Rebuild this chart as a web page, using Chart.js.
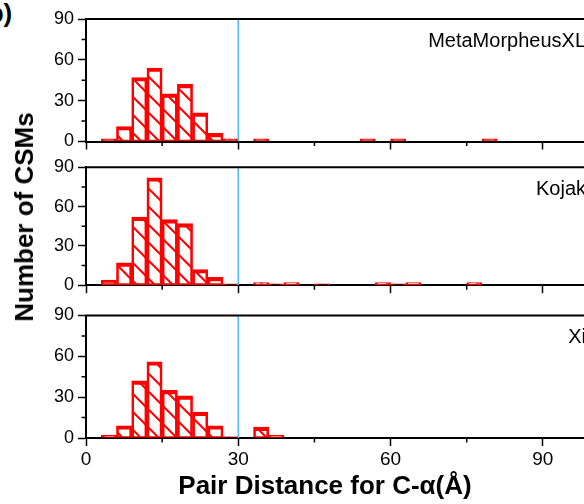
<!DOCTYPE html>
<html>
<head>
<meta charset="utf-8">
<script src="https://cdn.jsdelivr.net/npm/chart.js@4.4.1/dist/chart.umd.min.js"></script>
<style>
  html, body { margin: 0; padding: 0; overflow: hidden; background: #fff; }
  #wrap { position: relative; width: 640px; height: 504px; font-family: 'Liberation Sans', Arial, sans-serif; }
  canvas { position: absolute; left: 0; }
  .lbl { position: absolute; white-space: nowrap; line-height: 1; font-weight: bold; color: #000; }
</style>
</head>
<body>
<div id="wrap">
  <div class="lbl" style="left:-21px; top:0; font-size:26px;">(b)</div>
  <canvas id="c1" width="640" height="160" style="top:0px"></canvas>
  <canvas id="c2" width="640" height="152" style="top:148px"></canvas>
  <canvas id="c3" width="640" height="207" style="top:297px"></canvas>
  <div class="lbl" style="left:23.5px; top:217px; font-size:26px; transform:translate(-50%,-50%) rotate(-90deg);">Number of CSMs</div>
  <div class="lbl" style="left:325px; top:485px; font-size:26px; transform:translate(-50%,-50%);">Pair Distance for C-α(Å)</div>
</div>
<script>
// bin centres, 3 Å wide bins
const binCenters = [4.5, 7.5, 10.5, 13.5, 16.5, 19.5, 22.5, 25.5, 28.5, 31.5, 34.5, 37.5, 40.5,
  43.5, 46.5, 49.5, 52.5, 55.5, 58.5, 61.5, 64.5, 67.5, 70.5, 73.5, 76.5, 79.5]

const metaMorpheusXL = [2, 11, 47, 54, 35, 42, 21, 6, 2, 0, 2, 0, 0, 0, 0, 0, 0, 2, 0, 2, 0, 0, 0, 0, 0, 2]
const kojak = [4, 17, 52, 82, 50, 47, 12, 6, 1, 0, 2, 1, 2, 0, 1, 0, 0, 0, 2, 1, 2, 0, 0, 0, 2, 0]
const xi = [2, 9, 42, 56, 35, 31, 19, 9, 1, 0, 8, 2, 0, 0, 0, 0, 0, 0, 0, 0, 0, 0, 0, 0, 0, 0]

const cutoff = 30
const yTicks = [0, 30, 60, 90]
const minorX = [15, 45, 75, 105]
const minorY = [15, 45, 75]

const RED = '#ff0000'
const BLUE = '#4db8f0'
const PLOT_H = 122.5

// diagonal hatch
function hatch() {
  const s = 18
  const c = document.createElement('canvas')
  c.width = s; c.height = s
  const g = c.getContext('2d')
  g.strokeStyle = RED
  g.lineWidth = 2
  g.beginPath()
  g.moveTo(0, 0); g.lineTo(s, s)
  g.moveTo(s - 3, -3); g.lineTo(s + 3, 3)
  g.moveTo(-3, s - 3); g.lineTo(3, s + 3)
  g.stroke()
  return g.createPattern(c, 'repeat')
}

const framePlugin = {
  id: 'frame',
  afterDraw(chart, args, opts) {
    const { ctx, chartArea: a, scales: { x, y } } = chart
    ctx.save()
    ctx.strokeStyle = '#000'
    ctx.lineWidth = 2
    ctx.beginPath()
    ctx.moveTo(a.left - 1, a.top); ctx.lineTo(a.right, a.top)
    ctx.stroke()
    ctx.lineWidth = 1.5
    ctx.beginPath()
    minorX.forEach(v => {
      const px = x.getPixelForValue(v)
      ctx.moveTo(px, a.bottom); ctx.lineTo(px, a.bottom + 4.5)
    })
    minorY.forEach(v => {
      const py = y.getPixelForValue(v)
      ctx.moveTo(a.left, py); ctx.lineTo(a.left - 4.5, py)
    })
    ctx.stroke()
    ctx.fillStyle = '#000'
    ctx.font = '20px "Liberation Sans", Arial, sans-serif'
    ctx.textAlign = 'right'
    ctx.textBaseline = 'middle'
    ctx.fillText(opts.name, a.right - 33, a.top + 22)
    ctx.restore()
  }
}

function panel(id, padTop, counts, name, showX) {
  const el = document.getElementById(id)
  const canvasH = el.height
  return new Chart(el, {
    type: 'bar',
    data: {
      datasets: [{
        type: 'line',
        data: [{ x: cutoff, y: 0 }, { x: cutoff, y: 90 }],
        borderColor: BLUE,
        borderWidth: 1.5,
        pointRadius: 0
      }, {
        type: 'bar',
        data: binCenters.map((b, i) => ({ x: b, y: counts[i] })),
        backgroundColor: hatch(),
        borderColor: RED,
        borderWidth: { top: 3.5, left: 2, right: 2, bottom: 1 },
        borderSkipped: false,
        barPercentage: 1,
        categoryPercentage: 1
      }]
    },
    options: {
      responsive: false,
      animation: false,
      layout: { padding: { top: padTop, left: 0, right: 21, bottom: 0 } },
      plugins: { legend: { display: false }, tooltip: { enabled: false }, frame: { name } },
      scales: {
        x: {
          type: 'linear', min: 0, max: 105, offset: false, z: 1,
          afterFit: s => { s.height = canvasH - padTop - PLOT_H },
          ticks: { display: showX, stepSize: 30, includeBounds: false, color: '#000', padding: 2, maxRotation: 0,
            font: { size: 19, family: 'Liberation Sans' } },
          grid: { drawOnChartArea: false, offset: false, tickLength: 8, tickWidth: 1.5, tickColor: '#000' },
          border: { color: '#000', width: 2 }
        },
        y: {
          min: 0, max: 90, z: 1,
          afterFit: s => { s.width = 86 },
          afterBuildTicks: s => { s.ticks = yTicks.map(v => ({ value: v })) },
          ticks: { color: '#000', padding: 4, font: { size: 18, family: 'Liberation Sans' } },
          grid: { drawOnChartArea: false, tickLength: 8, tickWidth: 1.5, tickColor: '#000' },
          border: { color: '#000', width: 2 }
        }
      }
    },
    plugins: [framePlugin]
  })
}

panel('c1', 19, metaMorpheusXL, 'MetaMorpheusXL', false)
panel('c2', 19.3, kojak, 'Kojak', false)
panel('c3', 18.5, xi, 'Xi', true)
</script>
</body>
</html>
